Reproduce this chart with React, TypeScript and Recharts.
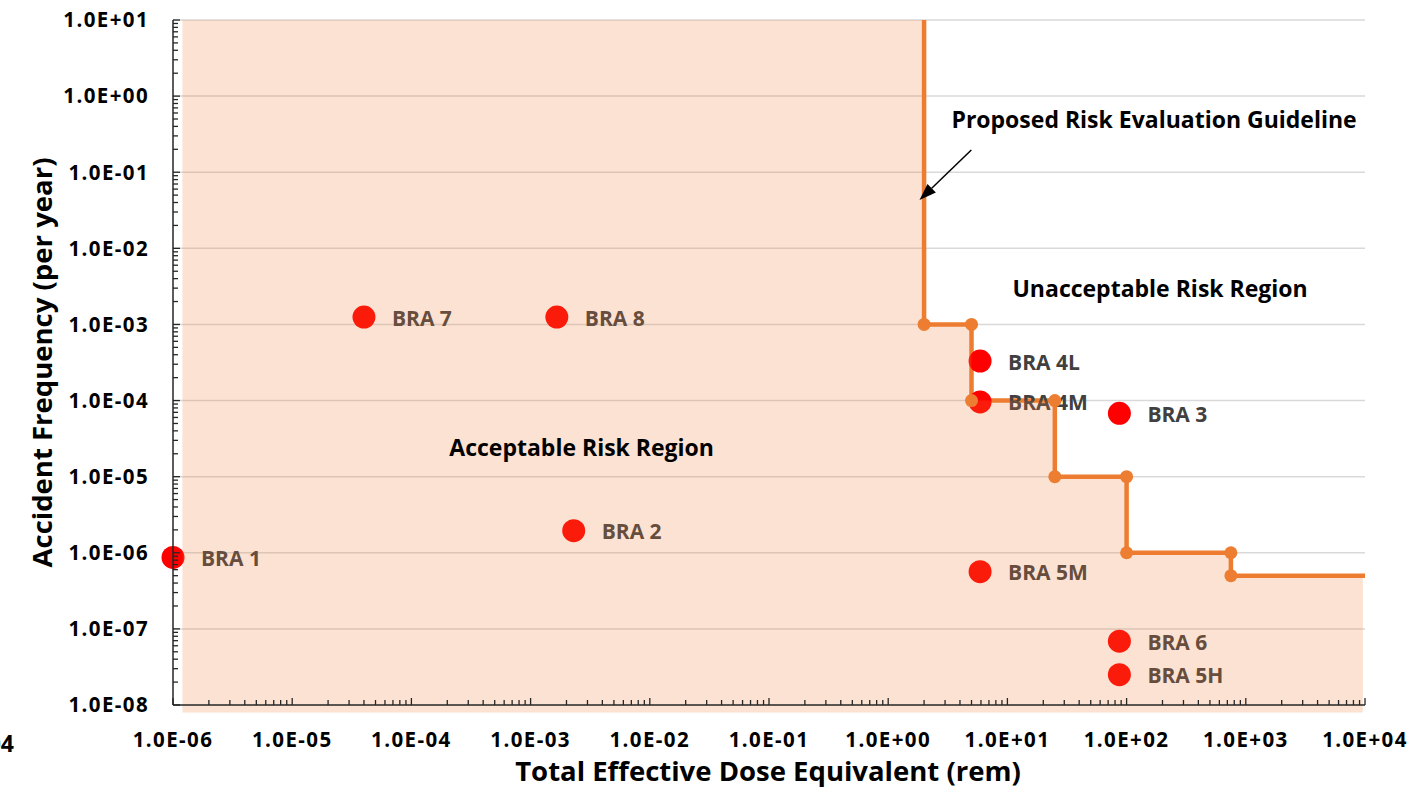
import {
  ComposedChart,
  XAxis,
  YAxis,
  Scatter,
  Line,
  Area,
  ReferenceLine,
  ReferenceDot,
  Label,
} from "recharts";

const FONT = "'Open Sans', sans-serif";

// axis decades (tick labels) and the minor steps between them
const X_DECADES = [1e-6, 1e-5, 1e-4, 1e-3, 1e-2, 1e-1, 1e0, 1e1, 1e2, 1e3, 1e4];
const Y_DECADES = [1e-8, 1e-7, 1e-6, 1e-5, 1e-4, 1e-3, 1e-2, 1e-1, 1e0, 1e1];
const MINOR_STEPS = [2, 3, 4, 5, 6, 7, 8, 9];

// BRA points
const BRA_NAMES = ["BRA 1", "BRA 2", "BRA 7", "BRA 8", "BRA 4L", "BRA 4M", "BRA 5M", "BRA 3", "BRA 6", "BRA 5H"];
const BRA_DOSE = [1.0e-6, 2.3e-3, 4.0e-5, 1.66e-3, 5.9, 5.9, 5.9, 87, 87, 87];
const BRA_FREQ = [8.7e-7, 1.95e-6, 1.25e-3, 1.25e-3, 3.3e-4, 9.6e-5, 5.65e-7, 6.8e-5, 6.9e-8, 2.5e-8];

// proposed risk evaluation guideline (staircase)
const GUIDE_DOSE = [2, 2, 5, 5, 25, 25, 100, 100, 750, 750, 1e4];
const GUIDE_FREQ = [10, 1e-3, 1e-3, 1e-4, 1e-4, 1e-5, 1e-5, 1e-6, 1e-6, 5e-7, 5e-7];

// acceptable region shading (step after)
const SHADE_DOSE = [1.2e-6, 2, 5, 25, 100, 750, 9.6e3];
const SHADE_FREQ = [10, 1e-3, 1e-4, 1e-5, 1e-6, 5e-7, 5e-7];

const withMinors = (decades: number[]) => {
  const out: number[] = [];
  decades.forEach((d, i) => {
    out.push(d);
    if (i < decades.length - 1) MINOR_STEPS.forEach((m) => out.push(d * m));
  });
  return out;
};
const X_TICKS = withMinors(X_DECADES);
const Y_TICKS = withMinors(Y_DECADES);

const braData = BRA_NAMES.map((name, i) => ({ name, x: BRA_DOSE[i], y: BRA_FREQ[i] }));
const guideData = GUIDE_DOSE.map((x, i) => ({ x, y: GUIDE_FREQ[i] }));
const shadeData = SHADE_DOSE.map((x, i) => ({ x, y: SHADE_FREQ[i] }));

const isDecade = (v: number) => Math.abs(Math.log10(v) - Math.round(Math.log10(v))) < 1e-6;

function fmtSci(v: number) {
  const e = Math.round(Math.log10(v));
  const mant = (v / Math.pow(10, e)).toFixed(1);
  return `${mant}E${e < 0 ? "-" : "+"}${String(Math.abs(e)).padStart(2, "0")}`;
}

const AXIS_COLOR = "#262626";
const ORANGE = "#ED7D31";
const TICK_FONT = 20.5;
const TICK_SPACING = 1.4;

function XTick(props: any) {
  const { x, y, payload } = props;
  const major = isDecade(payload.value);
  return (
    <g>
      <line x1={x} x2={x} y1={y} y2={y - (major ? 7 : 5)} stroke={AXIS_COLOR} strokeWidth={1.3} />
      {major && (
        <text
          x={x}
          y={y + 42}
          textAnchor="middle"
          fontFamily={FONT}
          fontWeight={700}
          fontSize={TICK_FONT}
          letterSpacing={TICK_SPACING}
          fill="#000"
        >
          {fmtSci(payload.value)}
        </text>
      )}
    </g>
  );
}

function YTick(props: any) {
  const { x, y, payload } = props;
  const major = isDecade(payload.value);
  return (
    <g>
      <line x1={x} x2={x + (major ? 7 : 5)} y1={y} y2={y} stroke={AXIS_COLOR} strokeWidth={1.3} />
      {major && (
        <text
          x={x - 24}
          y={y}
          dy="0.36em"
          textAnchor="end"
          fontFamily={FONT}
          fontWeight={700}
          fontSize={TICK_FONT}
          letterSpacing={TICK_SPACING}
          fill="#000"
        >
          {fmtSci(payload.value)}
        </text>
      )}
    </g>
  );
}

function BraPoint(props: any) {
  const { cx, cy, payload } = props;
  return (
    <g>
      <circle cx={cx} cy={cy} r={11.5} fill="#FF0000" />
      <text x={cx + 28} y={cy + 1} dy="0.36em" fontFamily={FONT} fontWeight={700} fontSize={21} fill="#404040">
        {payload.name}
      </text>
    </g>
  );
}

function GuideDot(props: any) {
  const { cx, cy, index } = props;
  if (index === 0 || index === GUIDE_DOSE.length - 1) return <g key={`gd-${index}`} />;
  return <circle key={`gd-${index}`} cx={cx} cy={cy} r={6.5} fill={ORANGE} />;
}

function ArrowShape(props: any) {
  const { x1, y1, x2, y2 } = props;
  if ([x1, y1, x2, y2].some((v) => typeof v !== "number")) return null;
  const ang = Math.atan2(y2 - y1, x2 - x1);
  const len = 17;
  const half = 6;
  const bx = x2 - len * Math.cos(ang);
  const by = y2 - len * Math.sin(ang);
  const px = -Math.sin(ang) * half;
  const py = Math.cos(ang) * half;
  return (
    <g>
      <line x1={x1} y1={y1} x2={bx} y2={by} stroke="#000" strokeWidth={1.5} />
      <polygon points={`${x2},${y2} ${bx + px},${by + py} ${bx - px},${by - py}`} fill="#000" />
    </g>
  );
}

const textLabel = (value: string, size = 23) => (p: any) => {
  const vb = p.viewBox || {};
  const cx = (vb.x ?? 0) + (vb.width ?? 0) / 2;
  const cy = (vb.y ?? 0) + (vb.height ?? 0) / 2;
  return (
    <text x={cx} y={cy} dy="0.36em" textAnchor="middle" fontFamily={FONT} fontWeight={700} fontSize={size} fill="#000">
      {value}
    </text>
  );
};

export default function App() {
  return (
    <div style={{ position: "absolute", left: 0, top: 0, width: 1427, height: 799, background: "#fff" }}>
      <ComposedChart width={1427} height={799} margin={{ top: 20, right: 62, bottom: 34, left: 0 }}>
        <XAxis
          type="number"
          dataKey="x"
          scale="log"
          domain={[1e-6, 1e4]}
          ticks={X_TICKS}
          interval={0}
          tick={<XTick />}
          tickLine={false}
          tickSize={0}
          tickMargin={0}
          height={60}
          axisLine={{ stroke: AXIS_COLOR, strokeWidth: 1.5 }}
        >
          <Label
            content={(p: any) => {
              const vb = p.viewBox || {};
              return (
                <text
                  x={(vb.x ?? 0) + (vb.width ?? 0) / 2 - 1}
                  y={781}
                  textAnchor="middle"
                  fontFamily={FONT}
                  fontWeight={700}
                  fontSize={27.5}
                  fill="#000"
                >
                  Total Effective Dose Equivalent (rem)
                </text>
              );
            }}
          />
        </XAxis>
        <YAxis
          type="number"
          dataKey="y"
          scale="log"
          domain={[1e-8, 10]}
          ticks={Y_TICKS}
          interval={0}
          tick={<YTick />}
          tickLine={false}
          tickSize={0}
          tickMargin={0}
          width={173}
          axisLine={{ stroke: AXIS_COLOR, strokeWidth: 1.5 }}
        >
          <Label
            content={(p: any) => {
              const vb = p.viewBox || {};
              const cy = (vb.y ?? 0) + (vb.height ?? 0) / 2;
              return (
                <g>
                  <text
                    x={42}
                    y={cy}
                    dy="0.36em"
                    textAnchor="middle"
                    transform={`rotate(-90 42 ${cy})`}
                    fontFamily={FONT}
                    fontWeight={700}
                    fontSize={27.5}
                    fill="#000"
                  >
                    Accident Frequency (per year)
                  </text>
                  <text x={14} y={752} textAnchor="end" fontFamily={FONT} fontWeight={700} fontSize={23} fill="#000">
                    1.0E+04
                  </text>
                </g>
              );
            }}
          />
        </YAxis>

        {Y_DECADES.slice(1).map((v) => (
          <ReferenceLine key={`g-${v}`} y={v} stroke="#D9D9D9" strokeWidth={1.5} zIndex={10} />
        ))}

        <Line
          data={guideData}
          dataKey="y"
          type="linear"
          stroke={ORANGE}
          strokeWidth={4.5}
          dot={GuideDot}
          activeDot={false}
          isAnimationActive={false}
          zIndex={20}
        />

        <Scatter data={braData} shape={<BraPoint />} isAnimationActive={false} zIndex={30} />

        <Area
          data={shadeData}
          dataKey="y"
          type="stepAfter"
          baseValue={8e-9}
          stroke="none"
          fill={ORANGE}
          fillOpacity={0.22}
          activeDot={false}
          dot={false}
          isAnimationActive={false}
          zIndex={40}
        />

        <ReferenceDot x={170} y={0.49} r={0} fill="none" stroke="none" zIndex={50}>
          <Label content={textLabel("Proposed Risk Evaluation Guideline")} />
        </ReferenceDot>
        <ReferenceDot x={191} y={2.92e-3} r={0} fill="none" stroke="none" zIndex={50}>
          <Label content={textLabel("Unacceptable Risk Region")} />
        </ReferenceDot>
        <ReferenceDot x={2.68e-3} y={2.38e-5} r={0} fill="none" stroke="none" zIndex={50}>
          <Label content={textLabel("Acceptable Risk Region")} />
        </ReferenceDot>

        <ReferenceLine
          segment={[
            { x: 4.98, y: 0.196 },
            { x: 1.83, y: 0.043 },
          ]}
          shape={<ArrowShape />}
          zIndex={50}
        />
      </ComposedChart>
    </div>
  );
}
